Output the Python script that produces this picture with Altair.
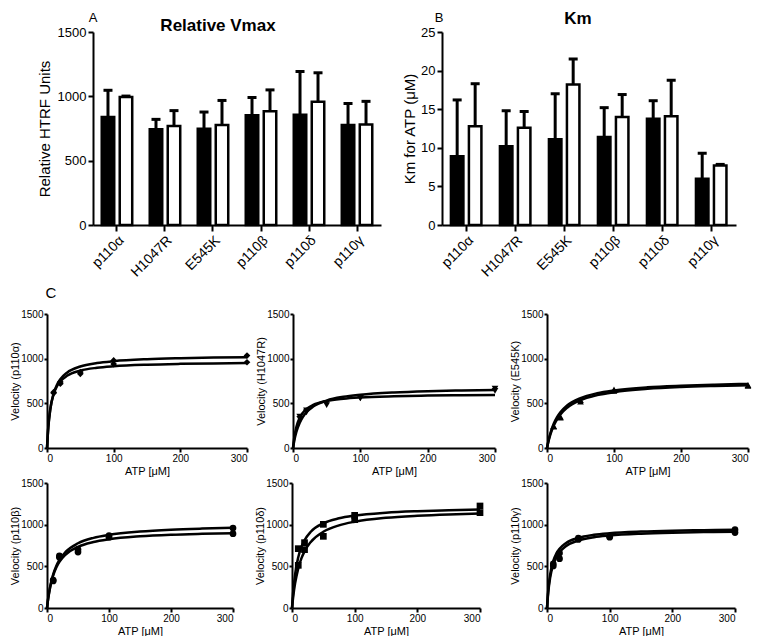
import altair as alt
import pandas as pd

FONT = "Liberation Sans"

# ---------------- data ----------------
categories = ["p110α", "H1047R", "E545K", "p110β", "p110δ", "p110γ"]
vmax_black = [840, 744, 749, 853, 856, 777]
vmax_black_top = [1047, 821, 878, 991, 1193, 945]
vmax_white = [994, 770, 778, 884, 958, 782]
vmax_white_top = [1002, 889, 968, 1050, 1183, 961]

km_black = [8.9, 10.2, 11.1, 11.4, 13.75, 6.0]
km_black_top = [16.2, 14.8, 17.0, 15.2, 16.1, 9.3]
km_white = [12.8, 12.6, 18.2, 14.0, 14.1, 7.7]
km_white_top = [18.3, 14.7, 21.5, 16.9, 18.75, 7.85]

atp_curve = [0, 2, 5, 10, 15, 20, 30, 50, 75, 100, 150, 200, 250, 300]
curve_a1 = [0, 231, 433, 612, 709, 770, 843, 912, 951, 972, 994, 1005, 1012, 1016]
curve_a2 = [0, 243, 441, 606, 693, 746, 808, 866, 898, 915, 933, 942, 947, 951]
curve_h1 = [0, 85, 179, 283, 352, 400, 464, 531, 573, 596, 622, 636, 644, 650]
curve_h2 = [0, 122, 235, 339, 398, 436, 482, 526, 551, 565, 579, 587, 591, 594]
curve_e1 = [0, 76, 165, 271, 345, 400, 475, 559, 613, 644, 679, 697, 709, 717]
curve_e2 = [0, 68, 150, 250, 321, 375, 450, 536, 592, 625, 662, 682, 694, 703]
curve_b1 = [0, 119, 253, 404, 505, 577, 673, 777, 842, 878, 918, 940, 953, 962]
curve_b2 = [0, 118, 247, 392, 486, 553, 641, 734, 792, 825, 860, 879, 890, 898]
curve_d1 = [0, 203, 407, 610, 732, 813, 915, 1017, 1076, 1109, 1144, 1162, 1173, 1181]
curve_d2 = [0, 140, 298, 476, 595, 680, 793, 915, 992, 1035, 1082, 1107, 1123, 1133]
curve_g1 = [0, 213, 400, 565, 655, 711, 778, 842, 878, 897, 917, 928, 934, 938]
curve_g2 = [0, 188, 362, 522, 613, 671, 742, 810, 850, 870, 892, 904, 911, 916]

atp_pts = [10, 20, 50, 100, 300]
pts_a1 = [625, 740, 850, 980, 1035]
pts_a2 = [615, 720, 830, 940, 960]
pts_h1 = [350, 420, 505, 555, 665]
pts_h2 = [325, 400, 480, 560, 640]
pts_e1 = [245, 350, 535, 655, 705]
pts_e2 = [240, 340, 520, 640, 695]
pts_b1 = [335, 625, 703, 870, 960]
pts_b2 = [325, 610, 671, 850, 892]
pts_d1 = [712, 784, 1004, 1112, 1224]
pts_d2 = [512, 700, 860, 1060, 1144]
pts_g1 = [530, 660, 840, 860, 940]
pts_g2 = [505, 592, 822, 850, 905]

one = pd.DataFrame({"k": [0]})


def bar_df(black, btop, white, wtop):
    rows = []
    for i, c in enumerate(categories):
        rows.append({"cat": c, "grp": "a", "val": black[i], "top": btop[i]})
        rows.append({"cat": c, "grp": "b", "val": white[i], "top": wtop[i]})
    return pd.DataFrame(rows)


def extender(xl, yt, yb):
    return alt.Chart(one).mark_rule(opacity=0, strokeWidth=0.5).encode(
        x=alt.value(xl), y=alt.value(yt), y2=alt.value(yb))


def spacer():
    return alt.Chart(one).mark_rule(opacity=0, strokeWidth=0.5).encode(
        x=alt.value(0), y=alt.value(0), y2=alt.value(1)).properties(width=1, height=1)


def label(text, x, y, size, weight="normal", baseline="top"):
    return alt.Chart(one).mark_text(
        text=text, font=FONT, fontSize=size, fontWeight=weight,
        baseline=baseline, align="center", color="black"
    ).encode(x=alt.value(x), y=alt.value(y))


def bar_panel(df, ymax, yvals, ytitle, width, height, letter, letter_x,
              title, title_x, title_y, ext_left, ext_bottom, title_pad):
    x = alt.X("cat:N", sort=categories, title=None,
              scale=alt.Scale(paddingInner=0.365, paddingOuter=0.182),
              axis=alt.Axis(labelAngle=-45, labelAlign="right", labelBaseline="top",
                            labelFontSize=14, labelPadding=2, tickSize=6, tickWidth=2,
                            domainWidth=2, bandPosition=0.5))
    xo = alt.XOffset("grp:N", scale=alt.Scale(paddingInner=0.306, paddingOuter=0))
    yscale = alt.Scale(domain=[0, ymax], nice=False)
    yaxis = alt.Axis(values=yvals, format="d", labelFontSize=13, titleFontSize=15,
                     tickSize=5, tickWidth=2, domainWidth=2, labelPadding=2,
                     titlePadding=title_pad)
    base = alt.Chart(df)
    bars = base.mark_bar(stroke="black", strokeWidth=2.5).encode(
        x=x, xOffset=xo,
        y=alt.Y("val:Q", scale=yscale, title=ytitle, axis=yaxis),
        fill=alt.Fill("grp:N", scale=alt.Scale(domain=["a", "b"], range=["black", "white"]),
                      legend=None))
    err = base.mark_rule(color="black", strokeWidth=3).encode(
        x=x, xOffset=xo,
        y=alt.Y("val:Q", scale=yscale, title=ytitle, axis=yaxis), y2="top:Q")
    cap = base.mark_tick(color="black", thickness=3, size=9, opacity=1).encode(
        x=x, xOffset=xo,
        y=alt.Y("top:Q", scale=yscale, title=ytitle, axis=yaxis))
    return alt.layer(
        bars, err, cap,
        label(letter, letter_x, -20, 13),
        label(title, title_x, title_y, 17, weight="bold", baseline="alphabetic"),
        extender(-ext_left, -24, height + ext_bottom),
    ).properties(width=width, height=height)


def kin_panel(c1, c2, p1, p2, shape, ytitle, width, height, ext_left,
              ext_top=0, ext_bottom=0, extra=None):
    n = len(atp_curve)
    cdf = pd.DataFrame({"atp": atp_curve + atp_curve, "v": c1 + c2,
                        "rep": ["1"] * n + ["2"] * n})
    m = len(atp_pts)
    pdf = pd.DataFrame({"atp": atp_pts + atp_pts, "v": p1 + p2,
                        "rep": ["1"] * m + ["2"] * m})
    x = alt.X("atp:Q", scale=alt.Scale(domain=[0, 300], nice=False), title="ATP [μM]",
              axis=alt.Axis(values=[0, 100, 200, 300], format="d", labelFontSize=10,
                            titleFontSize=11, tickSize=4, tickWidth=2, domainWidth=2,
                            labelPadding=1, titlePadding=2))
    y = alt.Y("v:Q", scale=alt.Scale(domain=[0, 1500], nice=False), title=ytitle,
              axis=alt.Axis(values=[0, 500, 1000, 1500], format="d", labelFontSize=10,
                            titleFontSize=11, tickSize=3, tickWidth=2, domainWidth=2,
                            labelPadding=1, titlePadding=0))
    lines = alt.Chart(cdf).mark_line(color="black", strokeWidth=2.5,
                                     interpolate="monotone").encode(x=x, y=y, detail="rep:N")
    pts = alt.Chart(pdf).mark_point(filled=True, color="black", opacity=1, size=45,
                                    shape=shape).encode(x=x, y=y)
    layers = [lines, pts]
    if extra is not None:
        layers.append(extra)
    layers.append(extender(-ext_left, -ext_top, height + ext_bottom))
    return alt.layer(*layers).properties(width=width, height=height)


dfA = bar_df(vmax_black, vmax_black_top, vmax_white, vmax_white_top)
dfB = bar_df(km_black, km_black_top, km_white, km_white_top)

A = bar_panel(dfA, 1500, [0, 500, 1000, 1500], "Relative HTRF Units", 288, 193,
              "A", 0, "Relative Vmax", 125, -1, 84, 58, 5)
B = bar_panel(dfB, 25, [0, 5, 10, 15, 20, 25], "Km for ATP (μM)", 294, 193,
              "B", -3, "Km", 136, -8, 61, 58, 3)

c1 = kin_panel(curve_a1, curve_a2, pts_a1, pts_a2, "diamond", "Velocity (p110α)",
               200, 134, 38, ext_top=31, ext_bottom=29,
               extra=label("C", 4, -28, 15))
c2 = kin_panel(curve_h1, curve_h2, pts_h1, pts_h2, "triangle-down", "Velocity (H1047R)",
               202, 134, 41)
c3 = kin_panel(curve_e1, curve_e2, pts_e1, pts_e2, "triangle-up", "Velocity (E545K)",
               201, 134, 47)
c4 = kin_panel(curve_b1, curve_b2, pts_b1, pts_b2, "circle", "Velocity (p110β)",
               186, 125, 38, ext_top=6)
c5 = kin_panel(curve_d1, curve_d2, pts_d1, pts_d2, "square", "Velocity (p110δ)",
               188, 125, 54)
c6 = kin_panel(curve_g1, curve_g2, pts_g1, pts_g2, "circle", "Velocity (p110γ)",
               188, 125, 62)

row1 = alt.hconcat(spacer(), A, B, spacing=0)
row2 = alt.hconcat(spacer(), c1, c2, c3, spacing=0)
row3 = alt.hconcat(spacer(), c4, c5, c6, spacing=0)

chart = alt.vconcat(row1, row2, row3, spacing=0).properties(
    padding=0
).configure(font=FONT).configure_view(strokeWidth=0).configure_axis(
    grid=False, labelColor="black", titleColor="black", domainColor="black",
    tickColor="black", titleFontWeight="normal", labelFont=FONT, titleFont=FONT
)

chart.save("out.html", embed_options={"renderer": "svg", "actions": False})
